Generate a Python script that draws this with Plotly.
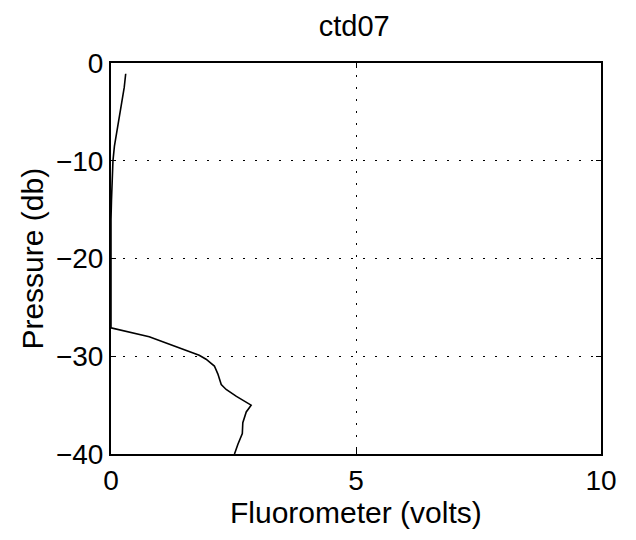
import plotly.graph_objects as go

# Fluorometer profile (volts) vs pressure (db, negative downward)
fluor = [0.30, 0.27, 0.22, 0.17, 0.12, 0.07, 0.04, 0.02, 0.01, 0.00, 0.00, 0.00,
         0.78, 1.39, 1.80, 1.94, 2.11, 2.18, 2.25, 2.35, 2.56, 2.86,
         2.76, 2.69, 2.68, 2.59, 2.52]
pressure = [-1.1, -2.5, -4.0, -5.5, -7.0, -8.5, -10.0, -12.0, -14.0, -16.0, -22.0, -27.1,
            -28.0, -29.1, -29.9, -30.3, -31.0, -31.8, -32.9, -33.4, -34.1, -35.0,
            -35.7, -36.8, -37.9, -39.0, -40.0]

x_ticks = [0, 5, 10]
y_ticks = [-40, -30, -20, -10, 0]

FONT = "Liberation Sans, Arial, Helvetica, sans-serif"

fig = go.Figure()
fig.add_trace(go.Scatter(x=fluor, y=pressure, mode="lines",
                         line=dict(color="black", width=1.6), showlegend=False))

axis_common = dict(
    showline=True, linecolor="black", linewidth=2, mirror="ticks",
    ticks="inside", ticklen=5, tickwidth=1, tickcolor="black",
    showgrid=True, gridcolor="black", gridwidth=1.2, griddash="2px,10px",
    zeroline=False,
    tickfont=dict(family=FONT, size=28, color="black"),
)

fig.update_xaxes(range=[0, 10], tickvals=x_ticks, **axis_common)
fig.update_yaxes(range=[-40, 0], tickvals=y_ticks, **axis_common)

fig.add_annotation(text="Fluorometer (volts)", xref="paper", yref="paper",
                   x=0.5, y=-0.15, xanchor="center", yanchor="middle", showarrow=False,
                   font=dict(family=FONT, size=30, color="black"))
fig.add_annotation(text="Pressure (db)", xref="paper", yref="paper",
                   x=-0.161, y=0.5, xanchor="center", yanchor="middle", showarrow=False,
                   textangle=-90, font=dict(family=FONT, size=30, color="black"))

fig.update_layout(
    width=636, height=540,
    margin=dict(l=111, r=35, t=63, b=86),
    paper_bgcolor="white", plot_bgcolor="white",
    title=dict(text="ctd07", x=0.557, xanchor="center", y=0.952, yanchor="middle",
               font=dict(family=FONT, size=29, color="black")),
)

fig.write_html("out.html")
